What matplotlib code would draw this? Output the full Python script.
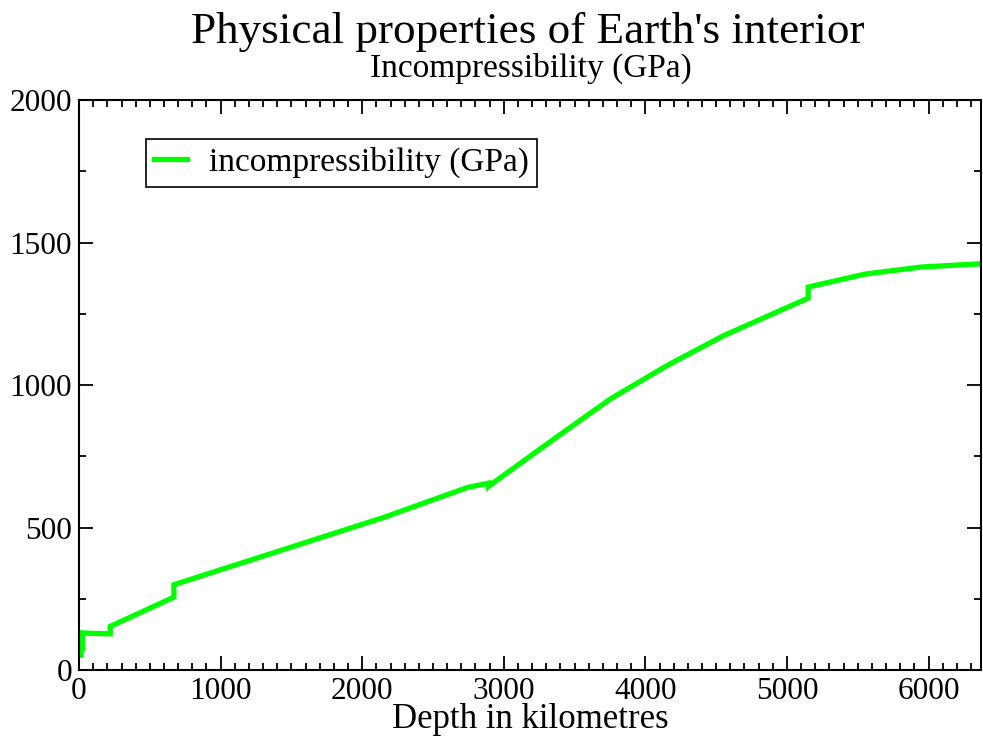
import numpy as np
import matplotlib.pyplot as plt
from matplotlib.ticker import MultipleLocator

# depth (km) and incompressibility (GPa)
depth = [0, 15, 15, 24.4, 24.4, 80, 220, 220, 670, 670, 2150, 2741, 2891,
         2891, 3356, 3756, 4156, 4556, 5150, 5150, 5550, 5950, 6371]
incomp = [52.0, 52.0, 75.3, 75.3, 130.3, 128.7, 127.0, 152.9, 255.6, 299.3, 535, 640, 655.6,
          644.1, 811, 952, 1069, 1174, 1304.7, 1343.7, 1389, 1414, 1425.3]

title = "Physical properties of Earth's interior"
subtitle = "Incompressibility (GPa)"
series_label = "incompressibility (GPa)"

plt.rcParams['font.family'] = ['Liberation Serif', 'DejaVu Serif']

fig = plt.figure(figsize=(9.83, 7.38), dpi=100)
ax = fig.add_axes([0.0804, 0.0921, 0.9176, 0.7724])

ax.plot(depth, incomp, color='#00ff00', lw=3.8, solid_joinstyle='miter', label=series_label)

ax.set_xlim(0, 6371)
ax.set_ylim(0, 2000)
ax.xaxis.set_major_locator(MultipleLocator(1000))
ax.xaxis.set_minor_locator(MultipleLocator(100))
ax.yaxis.set_major_locator(MultipleLocator(500))
ax.yaxis.set_minor_locator(MultipleLocator(250))
ax.tick_params(which='both', direction='in', top=True, right=True, width=1.3, labelsize=22.5)
ax.tick_params(which='major', length=10, pad=5)
ax.tick_params(which='minor', length=5)
for sp in ax.spines.values():
    sp.set_linewidth(1.5)

ax.set_xlabel("Depth in kilometres", fontsize=25, labelpad=-2)

leg = ax.legend(loc='upper left', bbox_to_anchor=(0.074, 0.932), fontsize=24, fancybox=False,
                framealpha=1, edgecolor='black', handlelength=1.0, handletextpad=0.65,
                borderpad=0.25, borderaxespad=0)
leg.get_frame().set_linewidth(1.2)

fig.text(0.537, 0.957, title, ha='center', va='center', fontsize=32.5)
fig.text(0.540, 0.908, subtitle, ha='center', va='center', fontsize=24)

fig.savefig("out.png", dpi=100)
